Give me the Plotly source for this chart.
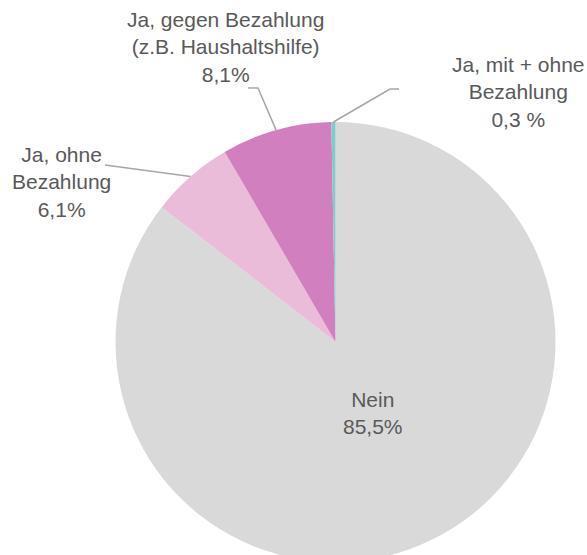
import math
import plotly.graph_objects as go

# ---- data ----
labels = ["Nein", "Ja, ohne Bezahlung", "Ja, gegen Bezahlung (z.B. Haushaltshilfe)", "Ja, mit + ohne Bezahlung"]
values = [85.5, 6.1, 8.1, 0.3]
label_texts = ["Nein<br>85,5%", "Ja, ohne<br>Bezahlung<br>6,1%",
               "Ja, gegen Bezahlung<br>(z.B. Haushaltshilfe)<br>8,1%",
               "Ja, mit + ohne<br>Bezahlung<br>0,3 %"]
colors = ["#D9D9D9", "#EBBCD9", "#D17FBE", "#7DCDC8"]

# ---- layout geometry (pixels) ----
W, H = 587, 570
CX, CY, R = 335.5, 342, 220
# label centres (px) and leader-line elbow points (px) per slice
label_pos = [(373, 413), (61, 182), (225, 47), (518, 92)]
leader_paths = [None, [(105, 165)], [(248, 88), (258, 88)], [(399, 89), (390, 89)]]

def px(x):
    return x / W

def py(y):
    return 1 - y / H

fig = go.Figure(go.Pie(
    labels=labels, values=values, sort=False, direction="clockwise", rotation=0,
    marker=dict(colors=colors, line=dict(width=0)),
    textinfo="none", hoverinfo="label+percent",
    domain=dict(x=[px(CX - R), px(CX + R)], y=[py(CY + R), py(CY - R)]),
    showlegend=False,
))

total = sum(values)
cum = 0.0
shapes = []
annotations = []
for i, v in enumerate(values):
    mid = (cum + v / 2) / total * 2 * math.pi
    cum += v
    ex = CX + R * math.sin(mid)
    ey = CY - R * math.cos(mid)
    if leader_paths[i]:
        pts = leader_paths[i] + [(ex, ey)]
        path = "M " + " L ".join(f"{px(a):.5f},{py(b):.5f}" for a, b in pts)
        shapes.append(dict(type="path", xref="paper", yref="paper", path=path,
                           line=dict(color="#A6A6A6", width=1.5)))
    lx, ly = label_pos[i]
    annotations.append(dict(x=px(lx), y=py(ly), xref="paper", yref="paper",
                            text=label_texts[i], showarrow=False,
                            xanchor="center", yanchor="middle", align="center",
                            font=dict(size=21, color="#595959",
                                      family="Liberation Sans, Arial, sans-serif")))

fig.update_layout(width=W, height=H, margin=dict(l=0, r=0, t=0, b=0),
                  paper_bgcolor="white", plot_bgcolor="white",
                  shapes=shapes, annotations=annotations)

fig.write_html("out.html", config=dict(displayModeBar=False),
               post_script="document.body.style.margin='0';document.body.style.overflow='hidden';")
